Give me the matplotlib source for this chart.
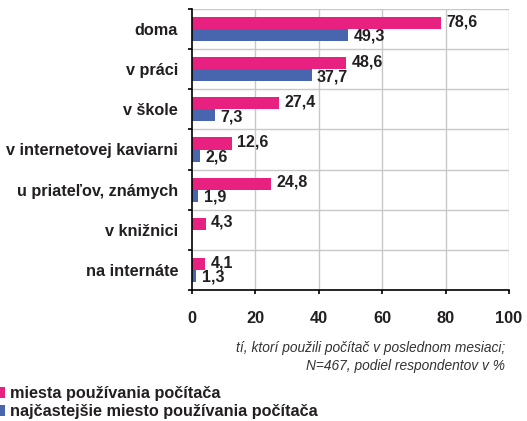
import matplotlib
matplotlib.use("Agg")
import matplotlib.pyplot as plt
import numpy as np

plt.rcParams['font.family'] = ['Liberation Sans', 'DejaVu Sans']

categories = ["doma", "v práci", "v škole", "v internetovej kaviarni",
              "u priateľov, známych", "v knižnici", "na internáte"]
places_used = [78.6, 48.6, 27.4, 12.6, 24.8, 4.3, 4.1]
most_frequent = [49.3, 37.7, 7.3, 2.6, 1.9, None, 1.3]
series_names = ["miesta používania počítača",
                "najčastejšie miesto používania počítača"]
x_ticks = [0, 20, 40, 60, 80, 100]
note = "tí, ktorí použili počítač v poslednom mesiaci;\nN=467, podiel respondentov v %"

PINK = "#E8207F"
BLUE = "#4766AE"
TEXT = "#231F20"
GRID = "#C8C8C8"

fig = plt.figure(figsize=(5.27, 4.21), dpi=100)
ax = fig.add_axes([192 / 527, 1 - 290 / 421, 317 / 527, 281 / 421])

y = np.arange(len(categories))
h = 0.3
blue_vals = [v if v is not None else 0 for v in most_frequent]
b1 = ax.barh(y - h / 2, places_used, height=h, color=PINK, label=series_names[0])
b2 = ax.barh(y + h / 2, blue_vals, height=h, color=BLUE, label=series_names[1])

for yi, v in zip(y, places_used):
    ax.annotate(f"{v:.1f}".replace(".", ","), (v, yi - h / 2), xytext=(4, 1),
                textcoords="offset points", va="center", ha="left",
                fontsize=11.5, fontweight="bold", color=TEXT)
for yi, v in zip(y, most_frequent):
    if v is None:
        continue
    ax.annotate(f"{v:.1f}".replace(".", ","), (v, yi + h / 2), xytext=(4, -1),
                textcoords="offset points", va="center", ha="left",
                fontsize=11.5, fontweight="bold", color=TEXT)

ax.set_xlim(0, 100)
ax.set_ylim(len(categories) - 0.5, -0.5)
ax.set_xticks(x_ticks)
ax.set_xticklabels([str(t) for t in x_ticks], fontsize=11.8, fontweight="bold", color=TEXT)

# category labels at band centres, ticks on band boundaries
ax.set_yticks(y)
ax.set_yticklabels(categories, fontsize=11.7, fontweight="bold", color=TEXT)
ax.tick_params(axis="y", which="major", length=0, pad=10)
ax.set_yticks(np.arange(-0.5, len(categories) + 0.5, 1), minor=True)
ax.tick_params(axis="y", which="minor", length=3, width=1.2, color="black", direction="out")
ax.tick_params(axis="x", which="major", length=3, width=1.2, color="black", direction="out", pad=12)

ax.grid(False)
for xv in x_ticks[1:]:
    ax.axvline(xv, color=GRID, lw=1, zorder=0)
for yv in np.arange(-0.5, len(categories) + 0.5, 1):
    ax.axhline(yv, color=GRID, lw=1, zorder=0)

for side in ["top", "right"]:
    ax.spines[side].set_visible(False)
ax.spines["left"].set_color("black")
ax.spines["left"].set_linewidth(1.2)
ax.spines["bottom"].set_color("black")
ax.spines["bottom"].set_linewidth(1.2)

fig.text(505 / 527, 1 - 357 / 421, note, ha="right", va="center",
         fontsize=9.9, style="italic", color="#333333", linespacing=1.3)

fig.legend(handles=[b1, b2], labels=series_names, loc="upper left",
           bbox_to_anchor=(-6 / 527, 1 - 386 / 421), frameon=False,
           handlelength=0.65, handleheight=0.65, handletextpad=0.35,
           labelspacing=0.18, borderpad=0, borderaxespad=0,
           prop={"size": 11.7, "weight": "bold"}, labelcolor=TEXT)

fig.savefig("out.png", dpi=100)
